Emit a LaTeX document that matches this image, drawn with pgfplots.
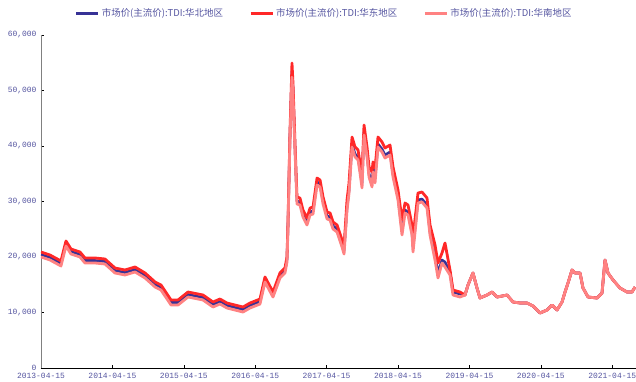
\documentclass[border=0pt]{standalone}
\usepackage{pgfplots}
\pgfplotsset{compat=1.18}
\usepackage{pgfplotstable}
\usepackage{fontspec}
\setmainfont{Liberation Sans}
\newfontfamily\cjk{Noto Sans CJK SC}
\newfontfamily\monof{Liberation Mono}
\definecolor{north}{RGB}{55,50,150}
\definecolor{east}{RGB}{255,40,40}
\definecolor{south}{RGB}{255,130,130}
\definecolor{txt}{RGB}{85,85,160}
% t = years since 2013-04-15; N = North China, E = East China, S = South China
\pgfplotstableread{
t N E S
0.000 20450 20900 20000
0.126 19910 20360 19460
0.280 18830 19280 18380
0.350 22430 22880 21980
0.420 20990 21440 20540
0.546 20450 20900 20000
0.616 19370 19820 18920
0.756 19370 19820 18920
0.896 19190 19640 18740
1.036 17570 18020 17120
1.176 17210 17660 16760
1.317 17750 18200 17300
1.457 16670 17120 16220
1.597 15050 15500 14600
1.681 14500 14950 14050
1.821 11800 12250 11350
1.919 11800 12250 11350
2.059 13240 13690 12790
2.129 13060 13510 12610
2.269 12700 13150 12250
2.409 11440 11890 10990
2.507 11980 12430 11530
2.605 11260 11710 10810
2.717 10900 11350 10450
2.829 10540 10990 10090
2.927 11260 11710 10810
3.067 11980 12430 11530
3.137 15950 16400 15500
3.249 13240 13690 12790
3.347 16670 17120 16220
3.417 17570 18020 17120
3.445 19550 20000 19100
3.459 25680 26130 25230
3.487 41890 42340 41440
3.515 53500 54960 52400
3.529 50000 51350 49000
3.557 39840 40540 39280
3.585 30110 30810 29550
3.627 29930 30630 29370
3.669 27770 28470 27210
3.725 26330 27030 25770
3.768 28130 28830 27570
3.810 28310 29010 27750
3.866 33530 34230 32970
3.908 33170 33870 32610
3.950 30110 30810 29550
4.006 27410 28110 26850
4.048 27230 27930 26670
4.090 25610 26310 25050
4.146 25070 25770 24510
4.216 22360 23060 21800
4.244 21100 21800 20540
4.286 29010 30270 28470
4.314 32070 33330 31530
4.356 40360 41620 39820
4.398 38560 39820 38020
4.440 38020 39280 37480
4.468 35680 36940 35140
4.496 33340 35140 32440
4.524 42520 43780 41980
4.566 38560 39820 38020
4.594 34960 36220 34420
4.636 33520 35320 32620
4.650 35860 37120 35320
4.678 34240 36040 33340
4.720 40360 41620 39820
4.776 39460 40720 38920
4.818 38380 39640 37840
4.888 38920 40180 38380
4.930 34960 36220 34420
5.000 30810 32070 30270
5.056 24870 26670 23970
5.098 28470 29730 27930
5.140 28110 29370 27570
5.196 24510 25770 23970
5.210 21800 23600 20900
5.280 30270 31530 29730
5.336 30450 31710 29910
5.406 29370 30630 28830
5.448 24510 25770 23970
5.518 20360 22160 19460
5.560 17120 18920 16220
5.616 19460 20720 18920
5.658 19100 22520 18200
5.728 17300 17660 16760
5.770 13690 14050 13150
5.868 13330 13690 12790
5.938 13150 13150 13150
5.980 14950 14950 14950
6.050 17120 17120 17120
6.106 14410 14410 14410
6.148 12610 12610 12610
6.246 13150 13150 13150
6.317 13690 13690 13690
6.387 12790 12790 12790
6.527 13150 13150 13150
6.611 11890 11890 11890
6.709 11710 11710 11710
6.807 11710 11710 11710
6.891 11170 11170 11170
6.989 9910 9910 9910
7.087 10450 10450 10450
7.157 11350 11350 11350
7.227 10450 10450 10450
7.297 11890 11890 11890
7.339 13690 13690 13690
7.381 15320 15320 15320
7.437 17660 17660 17660
7.479 17120 17120 17120
7.549 17120 17120 17120
7.591 14410 14410 14410
7.661 12790 12790 12790
7.787 12610 12610 12610
7.857 13510 13510 13510
7.899 19460 19460 19460
7.941 17120 17120 17120
8.011 15860 15860 15860
8.109 14410 14410 14410
8.207 13690 13690 13690
8.277 13690 13690 13690
8.319 14590 14590 14590
}\datatable
\begin{document}
\begin{tikzpicture}
\path[use as bounding box] (-41bp,-14bp) rectangle (595bp,368bp);
\begin{axis}[
  at={(0,0)}, anchor=south west,
  scale only axis,
  width=595bp, height=333bp,
  xmin=0, xmax=8.333,
  ymin=0, ymax=60000,
  axis x line*=bottom, axis y line*=left,
  x axis line style={black, line width=0.8bp, -},
  y axis line style={gray, line width=0.8bp, -},
  xtick={0,1,2,3,4,5,6,7,8},
  xticklabels={2013-04-15,2014-04-15,2015-04-15,2016-04-15,2017-04-15,2018-04-15,2019-04-15,2020-04-15,2021-04-15},
  ytick={0,10000,20000,30000,40000,50000,60000},
  scaled y ticks=false,
  /pgf/number format/fixed,
  /pgf/number format/1000 sep={,},
  /pgf/number format/assume math mode=true,
  tick style={black, line width=0.5bp},
  tick align=inside,
  major tick length=3bp,
  ticklabel style={font=\monof\fontsize{8}{9}\selectfont, text=txt},
  xticklabel style={yshift=-2bp},
  yticklabel style={xshift=-1bp},
  legend style={at={(0.476,1)}, anchor=south, yshift=15bp, draw=none, fill=none,
    font=\cjk\fontsize{9.5}{11}\selectfont, text=txt, inner sep=0pt},
  legend columns=3,
  legend cell align=left,
  /tikz/every even column/.append style={column sep=24bp},
  legend image code/.code={\draw[#1, line width=3bp] (0bp,0bp) -- (22bp,0bp);},
]
\addplot[north, line width=2.6bp, line join=round] table[x=t, y=N] {\datatable};
\addlegendentry{市场价(主流价):TDI:华北地区}
\addplot[east, line width=2.8bp, line join=round] table[x=t, y=E] {\datatable};
\addlegendentry{市场价(主流价):TDI:华东地区}
\addplot[south, line width=2.8bp, line join=round] table[x=t, y=S] {\datatable};
\addlegendentry{市场价(主流价):TDI:华南地区}
\end{axis}
\end{tikzpicture}
\end{document}
